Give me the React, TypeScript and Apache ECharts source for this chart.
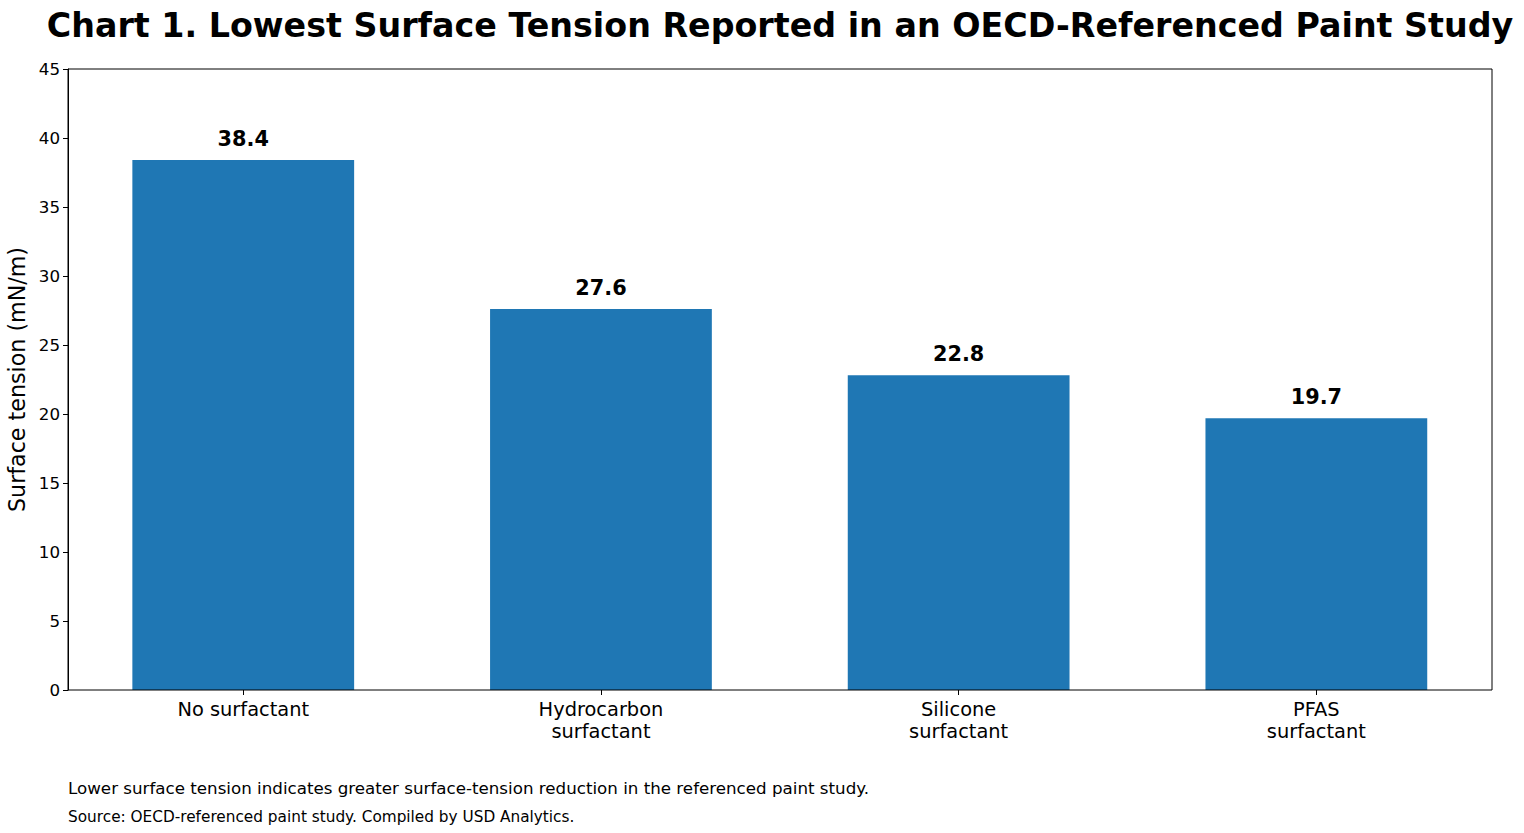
import React, { useEffect, useRef } from "react";
import * as echarts from "echarts";

const categories = ["No surfactant", "Hydrocarbon\nsurfactant", "Silicone\nsurfactant", "PFAS\nsurfactant"];
const values = [38.4, 27.6, 22.8, 19.7];
const yTicks = { min: 0, max: 45, interval: 5 };
const titleText = "Chart 1. Lowest Surface Tension Reported in an OECD-Referenced Paint Study";
const note1 = "Lower surface tension indicates greater surface-tension reduction in the referenced paint study.";
const note2 = "Source: OECD-referenced paint study. Compiled by USD Analytics.";

const FONT = "DejaVu Sans";

export default function App() {
  const ref = useRef<HTMLDivElement>(null);
  useEffect(() => {
    document.body.style.margin = "0";
    const chart = echarts.init(ref.current!, null, { renderer: "svg" });
    chart.setOption({
      animation: false,
      textStyle: { fontFamily: FONT },
      title: {
        text: titleText,
        left: 775,
        textAlign: "center",
        top: 4,
        textStyle: { fontFamily: FONT, fontSize: 33.3, fontWeight: "bold", color: "#000" },
      },
      grid: [
        { left: 64.4, right: 28.8, top: 69, bottom: 143, outerBoundsMode: "none", containLabel: false },
        {
          left: 68,
          right: 32,
          top: 69,
          bottom: 143,
          outerBoundsMode: "none",
          containLabel: false,
          show: true,
          borderColor: "#000",
          borderWidth: 1,
          backgroundColor: "transparent",
          z: 10,
        },
      ],
      xAxis: [
        {
          type: "category",
          gridIndex: 0,
          data: categories,
          axisLine: { show: false },
          axisTick: { show: true, alignWithLabel: true, length: 5, lineStyle: { color: "#000" } },
          axisLabel: { color: "#000", fontSize: 19.4, fontFamily: FONT, margin: 8, lineHeight: 22, interval: 0 },
        },
        {
          type: "value",
          gridIndex: 1,
          min: 0,
          max: 1,
          show: false,
        },
      ],
      yAxis: [
        {
          type: "value",
          gridIndex: 0,
          min: yTicks.min,
          max: yTicks.max,
          interval: yTicks.interval,
          show: false,
          splitLine: { show: false },
        },
        {
          type: "value",
          gridIndex: 1,
          min: yTicks.min,
          max: yTicks.max,
          interval: yTicks.interval,
          name: "Surface tension (mN/m)",
          nameLocation: "middle",
          nameGap: 38,
          nameTextStyle: { color: "#000", fontSize: 22.2, fontFamily: FONT },
          axisLine: { show: true, lineStyle: { color: "#000", width: 1 } },
          axisTick: { show: true, length: 5, lineStyle: { color: "#000" } },
          axisLabel: { color: "#000", fontSize: 16.7, fontFamily: FONT, margin: 8 },
          splitLine: { show: false },
        },
      ],
      series: [
        {
          type: "bar",
          xAxisIndex: 0,
          yAxisIndex: 0,
          data: values,
          barWidth: "62%",
          itemStyle: { color: "#1f77b4" },
          label: {
            show: true,
            position: "top",
            distance: 11,
            color: "#000",
            fontSize: 20.8,
            fontWeight: "bold",
            fontFamily: FONT,
            formatter: (p: any) => p.value.toFixed(1),
          },
        },
      ],
      graphic: [
        {
          type: "text",
          left: 68,
          top: 779,
          style: { text: note1, fontSize: 16.7, fontFamily: FONT, fill: "#000" },
        },
        {
          type: "text",
          left: 68,
          top: 809,
          style: { text: note2, fontSize: 15.3, fontFamily: FONT, fill: "#000" },
        },
      ],
    });
    return () => chart.dispose();
  }, []);
  return <div ref={ref} style={{ width: 1524, height: 833 }} />;
}
